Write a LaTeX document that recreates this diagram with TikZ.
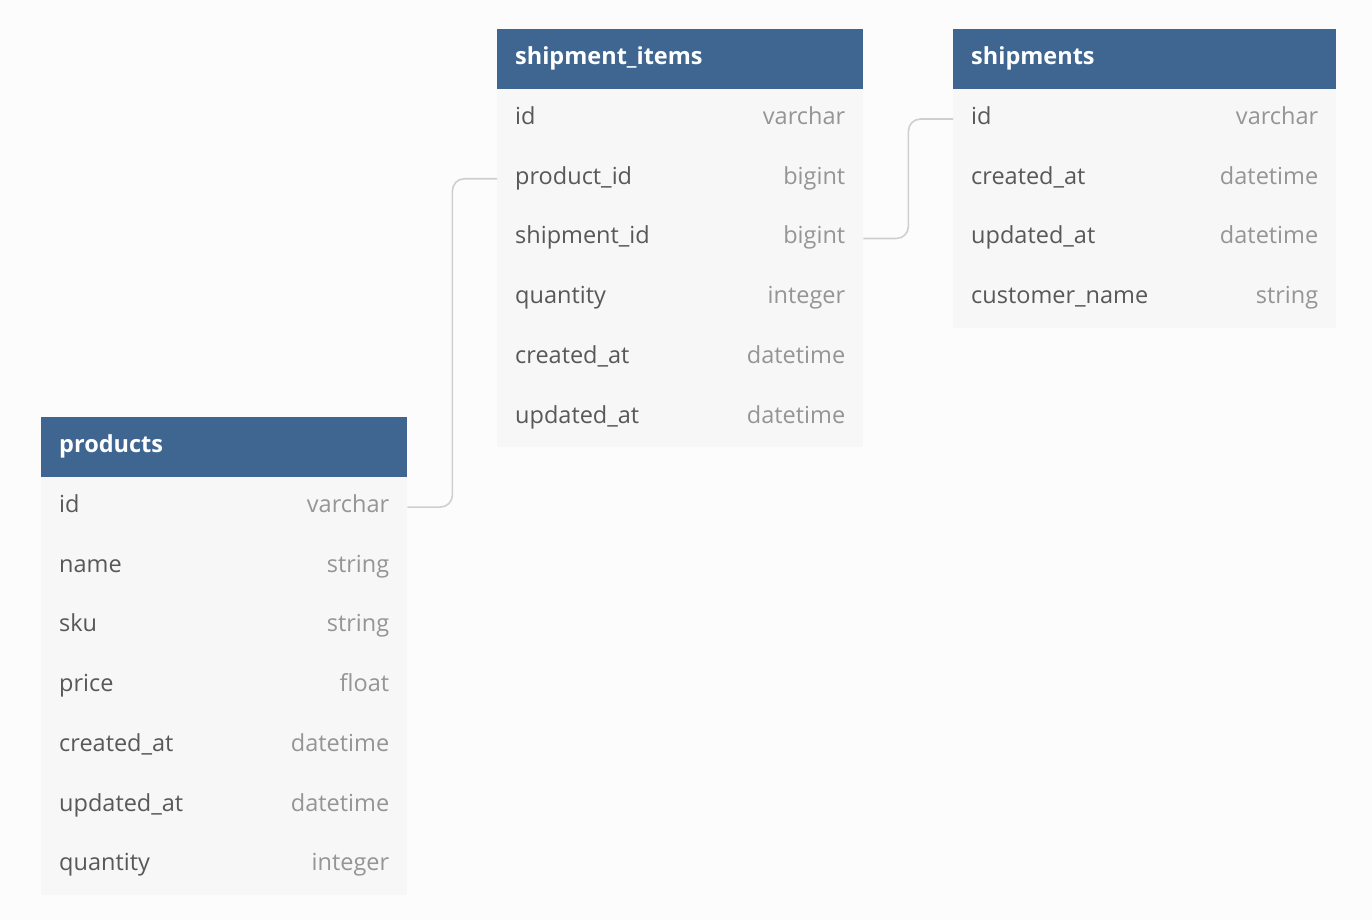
\documentclass[tikz,border=0pt]{standalone}
\usepackage{fontspec}
\setmainfont{Open Sans}
\definecolor{bgc}{HTML}{FCFCFC}
\definecolor{hdrc}{HTML}{3E6690}
\definecolor{rowc}{HTML}{F7F7F7}
\definecolor{namec}{HTML}{585858}
\definecolor{typec}{HTML}{959595}
\definecolor{connc}{HTML}{CFCFCF}
\tikzset{
  hdr/.style={rectangle, fill=hdrc, draw=none, inner sep=0pt, minimum height=60pt, anchor=north west},
  hdrtext/.style={anchor=base west, inner sep=0pt, text=white, font=\fontsize{23.5}{28}\selectfont\bfseries},
  rowbox/.style={rectangle, fill=rowc, draw=none, inner sep=0pt, minimum height=59.7pt, anchor=north west},
  nm/.style={anchor=base west, inner sep=0pt, text=namec, font=\fontsize{23.5}{28}\selectfont},
  ty/.style={anchor=base east, inner sep=0pt, text=typec, font=\fontsize{23.5}{28}\selectfont},
  conn/.style={draw=connc, line width=1.6pt, rounded corners=12pt}
}
\begin{document}
\begin{tikzpicture}[x=1pt,y=-1pt]
\fill[bgc] (0,0) rectangle (1372,920);
\useasboundingbox (0,0) rectangle (1372,920);

% shipment_items
\node[hdr, minimum width=366pt] (si) at (497,29) {};
\node[hdrtext] (si-title) at ([xshift=18pt,yshift=-5.5pt]si.west) {shipment\_items};
\foreach \n/\t [count=\i from 0] in {id/varchar, product\_id/bigint, shipment\_id/bigint, quantity/integer, created\_at/datetime, updated\_at/datetime}{
  \node[rowbox, minimum width=366pt] (si-\i) at (497,{89+59.7*\i}) {};
  \node[nm] (si-\i-n) at ([xshift=18pt,yshift=-5.5pt]si-\i.west) {\n};
  \node[ty] (si-\i-t) at ([xshift=-18pt,yshift=-5.5pt]si-\i.east) {\t};
}

% shipments
\node[hdr, minimum width=383pt] (sh) at (953,29) {};
\node[hdrtext] (sh-title) at ([xshift=18pt,yshift=-5.5pt]sh.west) {shipments};
\foreach \n/\t [count=\i from 0] in {id/varchar, created\_at/datetime, updated\_at/datetime, customer\_name/string}{
  \node[rowbox, minimum width=383pt] (sh-\i) at (953,{89+59.7*\i}) {};
  \node[nm] (sh-\i-n) at ([xshift=18pt,yshift=-5.5pt]sh-\i.west) {\n};
  \node[ty] (sh-\i-t) at ([xshift=-18pt,yshift=-5.5pt]sh-\i.east) {\t};
}

% products
\node[hdr, minimum width=366pt] (p) at (41,417) {};
\node[hdrtext] (p-title) at ([xshift=18pt,yshift=-5.5pt]p.west) {products};
\foreach \n/\t [count=\i from 0] in {id/varchar, name/string, sku/string, price/float, created\_at/datetime, updated\_at/datetime, quantity/integer}{
  \node[rowbox, minimum width=366pt] (p-\i) at (41,{477+59.7*\i}) {};
  \node[nm] (p-\i-n) at ([xshift=18pt,yshift=-5.5pt]p-\i.west) {\n};
  \node[ty] (p-\i-t) at ([xshift=-18pt,yshift=-5.5pt]p-\i.east) {\t};
}

% connectors
\draw[conn] (p-0.east) -- ++(45,0) |- (si-1.west);
\draw[conn] (si-2.east) -- ++(45,0) |- (sh-0.west);
\end{tikzpicture}
\end{document}
